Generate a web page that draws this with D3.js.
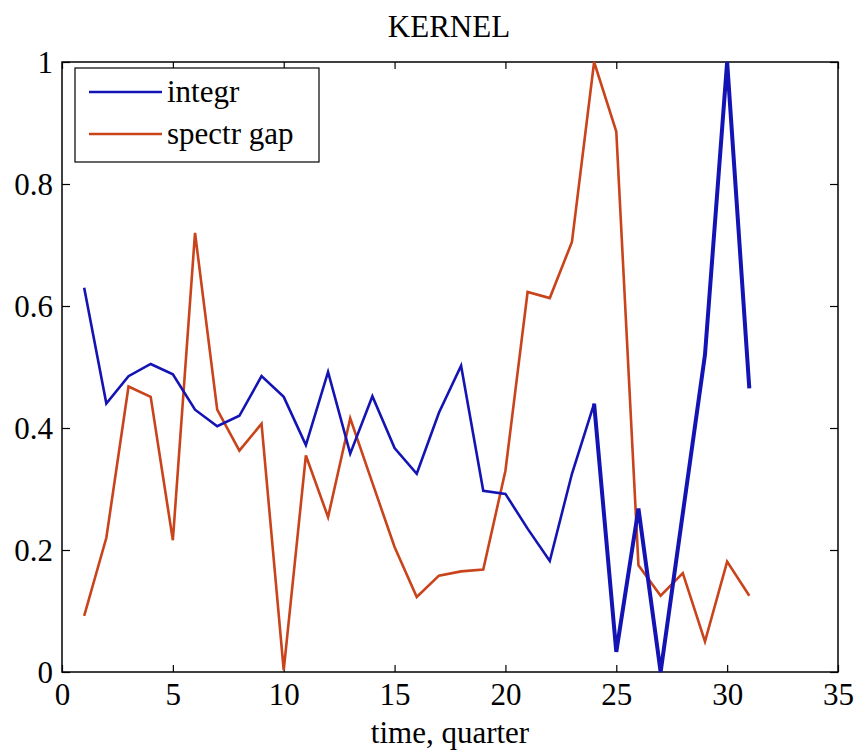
<!DOCTYPE html>
<html>
<head>
<meta charset="utf-8">
<script src="https://cdn.jsdelivr.net/npm/d3@7"></script>
<style>
  body { margin: 0; background: #fff; }
  svg { display: block; }
  svg text { font-family: "Liberation Serif", "Times New Roman", Times, "Nimbus Roman", "DejaVu Serif", serif !important; fill: #000; }
</style>
</head>
<body>
<svg id="chart" width="854" height="751"></svg>
<script>
// ---- data ----
const quarters = [1,2,3,4,5,6,7,8,9,10,11,12,13,14,15,16,17,18,19,20,21,22,23,24,25,26,27,28,29,30,31];
const integr = [0.63,0.44,0.485,0.505,0.488,0.43,0.403,0.42,0.485,0.451,0.372,0.492,0.358,0.452,0.367,0.325,0.425,0.502,0.297,0.292,0.235,0.182,0.325,0.44,0.033,0.268,0.0,0.26,0.52,1.0,0.465];
const spectrGap = [0.092,0.22,0.468,0.451,0.216,0.72,0.43,0.363,0.407,0.003,0.355,0.254,0.416,0.31,0.205,0.123,0.158,0.165,0.168,0.33,0.623,0.613,0.705,1.0,0.886,0.175,0.125,0.162,0.05,0.181,0.125];
const xTicks = [0,5,10,15,20,25,30,35];
const yTicks = [0,0.2,0.4,0.6,0.8,1];
const seriesNames = ["integr","spectr gap"];
const title = "KERNEL";
const xLabel = "time, quarter";

// ---- layout ----
const svg = d3.select("#chart");
const L = 62, R = 838, T = 62, B = 672;
const blue = "#1414b4", red = "#c9431b";
const fs = 31;
const FONT = "'Liberation Serif', 'Times New Roman', Times, 'Nimbus Roman', 'DejaVu Serif', serif";

const x = d3.scaleLinear().domain([0,35]).range([L,R]);
const y = d3.scaleLinear().domain([0,1]).range([B,T]);

// frame
svg.append("rect").attr("x",L).attr("y",T).attr("width",R-L).attr("height",B-T)
  .attr("fill","#fff").attr("stroke","#000").attr("stroke-width",1.5);

// axes (inward ticks)
const fmtY = d => d === 0 ? "0" : d === 1 ? "1" : d3.format(".1f")(d);
const gx = svg.append("g").attr("transform",`translate(0,${B})`)
  .call(d3.axisBottom(x).tickValues(xTicks).tickSizeInner(-7).tickSizeOuter(0).tickFormat(d3.format("d")));
gx.selectAll("text").attr("y",33).attr("dy",0);
const gxt = svg.append("g").attr("transform",`translate(0,${T})`)
  .call(d3.axisTop(x).tickValues(xTicks).tickSizeInner(-7).tickSizeOuter(0).tickFormat(""));
const gy = svg.append("g").attr("transform",`translate(${L},0)`)
  .call(d3.axisLeft(y).tickValues(yTicks).tickSizeInner(-8).tickSizeOuter(0).tickFormat(fmtY));
gy.selectAll("text").attr("x",-9).attr("dy","0.34em");
const gyr = svg.append("g").attr("transform",`translate(${R},0)`)
  .call(d3.axisRight(y).tickValues(yTicks).tickSizeInner(-8).tickSizeOuter(0).tickFormat(""));
[gx,gxt,gy,gyr].forEach(g => {
  g.attr("font-family", FONT).attr("font-size", fs);
  g.select(".domain").remove();
  g.selectAll("line").attr("stroke","#000").attr("stroke-width",1.2);
  g.selectAll("text").attr("fill","#000");
});

// lines
const line = d3.line().x(d => x(d[0])).y(d => y(d[1]));
const blueData = quarters.map((q,i) => [q, integr[i]]);
const redData = quarters.map((q,i) => [q, spectrGap[i]]);
svg.append("path").datum(redData).attr("d",line)
  .attr("fill","none").attr("stroke",red).attr("stroke-width",2.6);
svg.append("path").datum(blueData.slice(0,24)).attr("d",line)
  .attr("fill","none").attr("stroke",blue).attr("stroke-width",2.6);
svg.append("path").datum(blueData.slice(23)).attr("d",line)
  .attr("fill","none").attr("stroke",blue).attr("stroke-width",4);

// legend
const lg = svg.append("g").attr("font-family", FONT);
lg.append("rect").attr("x",75).attr("y",68).attr("width",244).attr("height",94)
  .attr("fill","#fff").attr("stroke","#000").attr("stroke-width",1.2);
[blue, red].forEach((c,i) => {
  const yy = 92 + i*42;
  lg.append("line").attr("x1",89).attr("x2",162).attr("y1",yy).attr("y2",yy)
    .attr("stroke",c).attr("stroke-width",2.6);
  lg.append("text").attr("x",167).attr("y",yy+10).attr("font-size",fs).text(seriesNames[i]);
});

// title & label
svg.append("text").attr("x",449).attr("y",37).attr("text-anchor","middle")
  .attr("font-family", FONT).attr("font-size",fs).text(title);
svg.append("text").attr("x",450).attr("y",743).attr("text-anchor","middle")
  .attr("font-family", FONT).attr("font-size",fs).text(xLabel);
</script>
</body>
</html>
